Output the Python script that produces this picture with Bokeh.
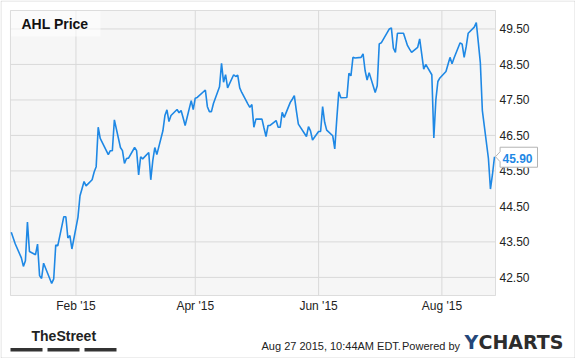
import pandas as pd
from bokeh.plotting import figure
from bokeh.models import ColumnDataSource, Range1d, Label, BoxAnnotation
from bokeh.core.properties import value
from bokeh.embed import file_html
from bokeh.resources import INLINE

# ---------------- data ----------------
dates = [
    "2014-12-31", "2015-01-02", "2015-01-05", "2015-01-06", "2015-01-07", "2015-01-08", "2015-01-09",
    "2015-01-12", "2015-01-13", "2015-01-14", "2015-01-15", "2015-01-16", "2015-01-20", "2015-01-21",
    "2015-01-22", "2015-01-23", "2015-01-26", "2015-01-27", "2015-01-28", "2015-01-29", "2015-01-30",
    "2015-02-02", "2015-02-03", "2015-02-04", "2015-02-05", "2015-02-06", "2015-02-09", "2015-02-10",
    "2015-02-11", "2015-02-12", "2015-02-13", "2015-02-17", "2015-02-18", "2015-02-19", "2015-02-20",
    "2015-02-23", "2015-02-24", "2015-02-25", "2015-02-26", "2015-02-27", "2015-03-02", "2015-03-03",
    "2015-03-04", "2015-03-05", "2015-03-06", "2015-03-09", "2015-03-10", "2015-03-11", "2015-03-12",
    "2015-03-13", "2015-03-16", "2015-03-17", "2015-03-18", "2015-03-19", "2015-03-20", "2015-03-23",
    "2015-03-24", "2015-03-25", "2015-03-26", "2015-03-27", "2015-03-30", "2015-03-31", "2015-04-01",
    "2015-04-02", "2015-04-06", "2015-04-07", "2015-04-08", "2015-04-09", "2015-04-10", "2015-04-13",
    "2015-04-14", "2015-04-15", "2015-04-16", "2015-04-17", "2015-04-20", "2015-04-21", "2015-04-22",
    "2015-04-23", "2015-04-24", "2015-04-27", "2015-04-28", "2015-04-29", "2015-04-30", "2015-05-01",
    "2015-05-04", "2015-05-05", "2015-05-06", "2015-05-07", "2015-05-08", "2015-05-11", "2015-05-12",
    "2015-05-13", "2015-05-14", "2015-05-15", "2015-05-18", "2015-05-19", "2015-05-20", "2015-05-21",
    "2015-05-22", "2015-05-26", "2015-05-27", "2015-05-28", "2015-05-29", "2015-06-01", "2015-06-02",
    "2015-06-03", "2015-06-04", "2015-06-05", "2015-06-08", "2015-06-09", "2015-06-10", "2015-06-11",
    "2015-06-12", "2015-06-15", "2015-06-16", "2015-06-17", "2015-06-18", "2015-06-19", "2015-06-22",
    "2015-06-23", "2015-06-24", "2015-06-25", "2015-06-26", "2015-06-29", "2015-06-30", "2015-07-01",
    "2015-07-02", "2015-07-06", "2015-07-07", "2015-07-08", "2015-07-09", "2015-07-10", "2015-07-13",
    "2015-07-14", "2015-07-15", "2015-07-16", "2015-07-17", "2015-07-20", "2015-07-21", "2015-07-22",
    "2015-07-23", "2015-07-24", "2015-07-27", "2015-07-28", "2015-07-29", "2015-07-30", "2015-07-31",
    "2015-08-03", "2015-08-04", "2015-08-05", "2015-08-06", "2015-08-07", "2015-08-10", "2015-08-11",
    "2015-08-12", "2015-08-13", "2015-08-14", "2015-08-17", "2015-08-18", "2015-08-19", "2015-08-20",
    "2015-08-21", "2015-08-24", "2015-08-25", "2015-08-26", "2015-08-27",
]
prices = [
    43.77, 43.44, 43.05, 42.81, 42.97, 44.06, 43.23,
    43.14, 43.44, 42.55, 42.47, 42.90, 42.33, 42.46,
    43.41, 43.39, 44.21, 44.21, 43.61, 43.68, 43.30,
    44.20, 44.80, 45.00, 45.20, 45.08, 45.25, 45.47,
    45.62, 46.73, 46.42, 45.96, 46.07, 46.07, 46.94,
    46.16, 46.07, 45.71, 45.85, 45.86, 46.16, 46.07,
    45.39, 45.90, 45.84, 46.02, 45.25, 45.79, 46.16,
    45.96, 46.63, 47.06, 47.22, 46.89, 47.06, 47.23,
    47.14, 47.20, 47.00, 46.78, 47.48, 47.23, 47.55,
    47.57, 47.78, 47.31, 47.17, 47.17, 47.40, 47.87,
    48.53, 48.00, 48.21, 47.84, 48.21, 48.16, 48.20,
    47.84, 47.71, 47.39, 47.29, 47.37, 46.73, 46.96,
    46.96, 46.71, 46.47, 46.78, 46.78, 46.92, 46.73,
    46.73, 47.15, 47.01, 47.43, 47.52, 47.62, 47.20,
    46.82, 46.47, 46.75, 46.63, 46.37, 46.61, 46.61,
    47.31, 46.87, 46.65, 46.49, 46.12, 46.96, 47.73,
    47.56, 47.57, 48.25, 48.18, 48.70, 48.68, 48.70,
    48.80, 48.33, 48.06, 48.27, 47.71, 47.90, 49.08,
    49.11, 49.50, 49.53, 48.96, 48.84, 49.38, 49.38,
    49.20, 49.03, 48.93, 48.84, 48.98, 49.22, 48.80,
    48.37, 48.50, 48.21, 46.43, 47.50, 48.02, 48.12,
    48.30, 48.50, 48.70, 48.52, 48.68, 49.11, 49.07,
    48.70, 49.00, 49.38, 49.55, 49.68, 49.12, 48.55,
    47.20, 45.85, 44.99, 45.40, 45.90,
]
y_ticks = [42.5, 43.5, 44.5, 45.5, 46.5, 47.5, 48.5, 49.5]
x_tick_dates = ["2015-02-01", "2015-04-01", "2015-06-01", "2015-08-01"]
x_tick_labels = ["Feb '15", "Apr '15", "Jun '15", "Aug '15"]
title_text = "AHL Price"
stamp_text = "Aug 27 2015, 10:44AM EDT."
powered_text = "Powered by"
brand_left = "TheStreet"

# ---------------- layout ----------------
W, H = 575, 358
PL, PT, PR, PB = 10, 10, 495, 295          # plot-area box on the canvas (px)
FONT = "Liberation Sans"
BLUE = "#1e88e5"

x_lo = pd.Timestamp("2014-12-30 15:00")
x_hi = pd.Timestamp("2015-08-27 12:00")
y_lo, y_hi = 41.99, 50.02

# the bokeh frame covers the whole canvas; ranges are widened so the
# plot-area box lands where it should
dx = (x_hi - x_lo) / (PR - PL)
dy = (y_hi - y_lo) / (PB - PT)
xr = Range1d(x_lo - dx * PL, x_hi + dx * (W - PR))
yr = Range1d(y_lo - dy * (H - PB), y_hi + dy * PT)


def sy(Y):
    return H - Y


p = figure(width=W, height=H, x_axis_type="datetime", x_axis_location=None, y_axis_location=None,
           output_backend="svg", toolbar_location=None, title=None, x_range=xr, y_range=yr,
           min_border=0, min_border_left=0, min_border_right=0, min_border_top=0, min_border_bottom=0)
p.background_fill_color = "white"
p.border_fill_color = "white"
p.outline_line_color = None
p.xgrid.visible = False
p.ygrid.visible = False

# plot area background + frame
p.add_layout(BoxAnnotation(left=x_lo, right=x_hi, bottom=y_lo, top=y_hi, level="underlay",
                           fill_color="#f6f6f6", fill_alpha=1, line_color="#9a9a9a", line_width=1))

# grid lines from the tick arrays
tick_dt = pd.to_datetime(x_tick_dates)
p.segment(x0=tick_dt, y0=[y_lo] * len(tick_dt), x1=tick_dt, y1=[y_hi] * len(tick_dt),
          line_color="#d9d9d9", line_width=1)
p.segment(x0=[x_lo] * len(y_ticks), y0=y_ticks, x1=[x_hi] * len(y_ticks), y1=y_ticks,
          line_color="#d9d9d9", line_width=1)

# tick labels
p.text(x=[x_hi] * len(y_ticks), y=y_ticks, text=[f"{v:.2f}" for v in y_ticks],
       x_offset=4, text_align="left", text_baseline="middle",
       text_font=value(FONT), text_font_size="12px", text_color="#222222")
p.text(x=tick_dt, y=[y_lo] * len(tick_dt), text=x_tick_labels, y_offset=10.5,
       text_align="center", text_baseline="middle",
       text_font=value(FONT), text_font_size="12px", text_color="#222222")

# price line
src = ColumnDataSource(dict(date=pd.to_datetime(dates), price=prices))
p.line(x="date", y="price", source=src, line_color=BLUE, line_width=1.6)

# last value callout (pointer box anchored on the last point)
last_dt, last_p = pd.Timestamp(dates[-1]), prices[-1]
offs = [(1.0, 0), (5.6, -5), (5.6, -9.5), (43, -9.5), (43, 10.5), (5.6, 10.5), (5.6, 5)]
p.patch(x=[last_dt + dx * ox for ox, _ in offs], y=[last_p - dy * oy for _, oy in offs],
        fill_color="white", fill_alpha=1, line_color="#b3b3b3", line_width=1)
p.text(x=[last_dt], y=[last_p], text=[f"{last_p:.2f}"], x_offset=8, y_offset=1.6,
       text_align="left", text_baseline="middle", text_font=value(FONT),
       text_font_size="12px", text_font_style="bold", text_color=BLUE)

# title box
p.add_layout(BoxAnnotation(left=10.5, right=100, top=sy(10.5), bottom=sy(36),
                           left_units="screen", right_units="screen",
                           top_units="screen", bottom_units="screen",
                           fill_color="white", fill_alpha=0.55, line_color=None))


def label(x, yc, text, size, font=FONT, bold=False, color="#222222"):
    p.add_layout(Label(x=x, y=sy(yc), x_units="screen", y_units="screen", text=text,
                       text_font=font, text_font_size=size,
                       text_font_style="bold" if bold else "normal",
                       text_color=color, text_align="left", text_baseline="middle"))


label(21, 23.7, title_text, "14px", bold=True, color="#111111")

# footer
label(31, 335.8, brand_left, "14px", bold=True, color="#222222")
for a, b in [(10, 42), (47, 79), (84, 116)]:
    p.add_layout(BoxAnnotation(left=a, right=b, top=sy(347.5), bottom=sy(351),
                               left_units="screen", right_units="screen",
                               top_units="screen", bottom_units="screen",
                               fill_color="#333333", fill_alpha=1, line_color=None))
label(261, 345.3, stamp_text, "11px")
label(401.5, 345.3, powered_text, "11px")
label(464, 341.7, "Y", "19px", font="DejaVu Sans", bold=True, color="#24477a")
label(478, 341.7, "CHARTS", "19px", font="DejaVu Sans", bold=True, color="#2d2d2d")

# outer border of the whole picture
p.add_layout(BoxAnnotation(left=0.5, right=W - 0.5, bottom=0.5, top=H - 0.5,
                           left_units="screen", right_units="screen",
                           top_units="screen", bottom_units="screen",
                           fill_alpha=0, line_color="#8c8c8c", line_width=1))

open("out.html", "w").write(file_html(p, INLINE))
